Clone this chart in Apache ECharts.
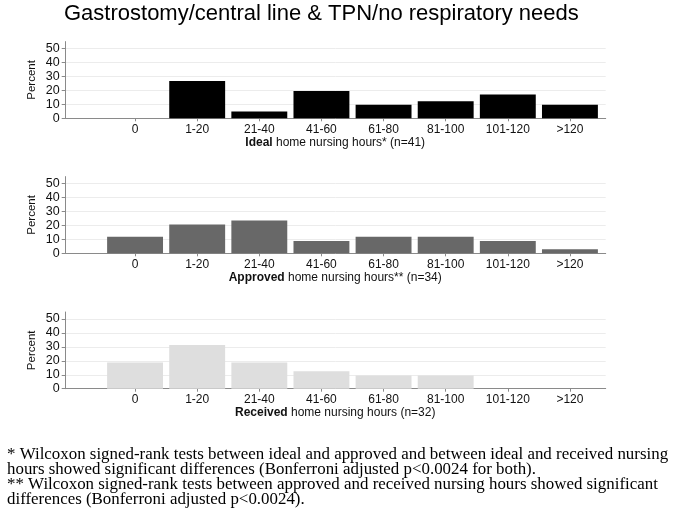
<!DOCTYPE html>
<html>
<head>
<meta charset="utf-8">
<script src="https://cdn.jsdelivr.net/npm/echarts@6/dist/echarts.min.js"></script>
<style>html,body{margin:0;padding:0;background:#fff}#c{width:675px;height:524px}</style>
</head>
<body>
<div id="c"></div>
<script>
var categories = ['0', '1-20', '21-40', '41-60', '61-80', '81-100', '101-120', '>120'];
var idealValues = [0, 26.8, 4.9, 19.5, 9.8, 12.2, 17.1, 9.8];
var approvedValues = [11.8, 20.6, 23.5, 8.8, 11.8, 11.8, 8.8, 2.9];
var receivedValues = [18.8, 31.3, 18.8, 12.5, 9.4, 9.4, 0, 0];
var yTicks = [0, 10, 20, 30, 40, 50];
var titleText = 'Gastrostomy/central line & TPN/no respiratory needs';
var axisNames = [
  ['Ideal', ' home nursing hours* (n=41)'],
  ['Approved', ' home nursing hours** (n=34)'],
  ['Received', ' home nursing hours (n=32)']
];
var footnote = '* Wilcoxon signed-rank tests between ideal and approved and between ideal and received nursing\n' +
  'hours showed significant differences (Bonferroni adjusted p<0.0024 for both).\n' +
  '** Wilcoxon signed-rank tests between approved and received nursing hours showed significant\n' +
  'differences (Bonferroni adjusted p<0.0024).';

var FONT = 'Liberation Sans, Arial, sans-serif';
var panels = [
  {values: idealValues, color: '#000000', y0: 118.3},
  {values: approvedValues, color: '#686868', y0: 253.3},
  {values: receivedValues, color: '#dedede', y0: 388.7}
];
var AX_LEFT = 65.7, AX_W = 540, BAR_LEFT = 104, BAR_W = 497, H50 = 69.7, H55 = 76.7;
var axisGray = '#8a8a8a';

var grids = [], xAxes = [], yAxes = [], series = [];
panels.forEach(function (p, i) {
  var gA = grids.length;
  grids.push({left: AX_LEFT, width: AX_W, top: p.y0 - H50, height: H50});
  grids.push({left: BAR_LEFT, width: BAR_W, top: p.y0 - H50, height: H50});
  grids.push({left: AX_LEFT, width: AX_W, top: p.y0 - H55, height: H55});
  // grid A: baseline, y labels, ticks, split lines, axis name
  xAxes.push({
    gridIndex: gA, type: 'category', data: categories,
    axisLine: {show: true, lineStyle: {color: axisGray, width: 1}},
    axisTick: {show: false}, axisLabel: {show: false},
    name: '{b|' + axisNames[i][0] + '}{n|' + axisNames[i][1] + '}',
    nameLocation: 'middle', nameGap: 18,
    nameTextStyle: {
      padding: [0, 1, 0, 0],
      rich: {
        b: {fontFamily: FONT, fontSize: 12, fontWeight: 'bold', color: '#111'},
        n: {fontFamily: FONT, fontSize: 12, color: '#111'}
      }
    }
  });
  yAxes.push({
    gridIndex: gA, type: 'value', min: 0, max: 50, interval: 10,
    axisLine: {show: false},
    axisTick: {show: true, length: 4, lineStyle: {color: axisGray}},
    axisLabel: {margin: 6, fontFamily: FONT, fontSize: 12.5, color: '#111',
      customValues: yTicks},
    splitLine: {show: true, lineStyle: {color: '#ececec', width: 1}}
  });
  // grid B: bars + category labels
  xAxes.push({
    gridIndex: gA + 1, type: 'category', data: categories,
    axisLine: {show: false},
    axisTick: {show: true, alignWithLabel: true, length: 3, lineStyle: {color: axisGray}},
    axisLabel: {margin: 5, fontFamily: FONT, fontSize: 12, color: '#111', interval: 0}
  });
  yAxes.push({
    gridIndex: gA + 1, type: 'value', min: 0, max: 50, interval: 10, show: false
  });
  // grid C: y axis line and name
  xAxes.push({gridIndex: gA + 2, type: 'category', data: categories, show: false});
  yAxes.push({
    gridIndex: gA + 2, type: 'value', min: 0, max: 55,
    axisLine: {show: true, lineStyle: {color: axisGray, width: 1}},
    axisTick: {show: false}, axisLabel: {show: false}, splitLine: {show: false},
    name: 'Percent', nameLocation: 'middle', nameGap: 28, nameRotate: 90,
    nameTextStyle: {fontFamily: FONT, fontSize: 11.5, color: '#111'}
  });
  series.push({
    type: 'bar', xAxisIndex: gA + 1, yAxisIndex: gA + 1, data: p.values,
    barCategoryGap: '10%',
    itemStyle: {color: p.color, borderWidth: 0},
    silent: true, animation: false
  });
});

var chart = echarts.init(document.getElementById('c'), null, {renderer: 'canvas'});
chart.setOption({
  backgroundColor: '#ffffff',
  animation: false,
  title: [
    {text: titleText, left: 59, top: -2,
      textStyle: {fontFamily: FONT, fontSize: 22, fontWeight: 'normal', color: '#000'}},
    {text: footnote, left: 2, top: 442,
      textStyle: {fontFamily: 'Liberation Serif, Times New Roman, serif', fontSize: 16.9,
        fontWeight: 'normal', color: '#000', lineHeight: 15}}
  ],
  grid: grids,
  xAxis: xAxes,
  yAxis: yAxes,
  series: series
});
</script>
</body>
</html>
